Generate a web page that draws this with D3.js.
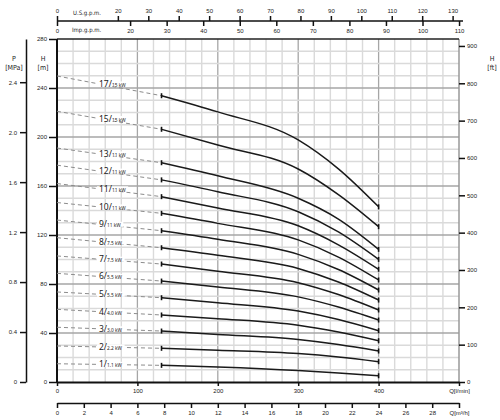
<!DOCTYPE html>
<html>
<head>
<meta charset="utf-8">
<script src="https://cdn.jsdelivr.net/npm/d3@7"></script>
<style>
body { margin:0; background:#fff; }
svg { font-family:"Liberation Sans Narrow","DejaVu Sans Condensed","Liberation Sans",Arial,sans-serif; }
.tick text { font-size:6px; fill:#222; }
.title { font-size:7px; fill:#222; text-anchor:middle; }
</style>
</head>
<body>
<div id="chart-area"></div>
<script>
// pump series: stages / motor power
var stages  = [17, 15, 13, 12, 11, 10, 9, 8, 7, 6, 5, 4, 3, 2, 1];
var motorKw = ["15","15","11","11","11","11","11","7.5","7.5","5.5","5.5","4.0","3.0","2.2","1.1"];

// flow points in l/min (first one is the dashed part start)
var flowPoints = [0, 130, 200, 300, 350, 400];

// head H [m], one row per model (same order as stages)
var heads = [
	[249.8, 233.7, 220.5, 197.6, 174.0, 143.0],
	[221.0, 206.3, 193.5, 173.9, 153.0, 126.8],
	[191.0, 179.0, 168.3, 150.0, 133.0, 108.3],
	[177.0, 165.0, 155.3, 139.0, 122.5, 100.1],
	[162.0, 151.3, 142.0, 127.5, 112.0,  92.0],
	[146.5, 137.7, 129.5, 116.0, 102.0,  83.3],
	[132.2, 123.5, 116.5, 104.2,  91.8,  75.1],
	[117.8, 109.6, 103.4,  92.7,  81.6,  66.9],
	[102.9,  96.3,  90.5,  81.1,  71.4,  58.8],
	[ 88.7,  82.4,  77.6,  69.5,  61.2,  50.6],
	[ 73.5,  68.8,  64.7,  57.9,  51.0,  41.9],
	[ 59.3,  54.7,  51.7,  46.3,  40.8,  33.7],
	[ 44.7,  41.6,  38.8,  34.7,  30.6,  25.3],
	[ 29.4,  27.5,  25.9,  23.2,  20.4,  16.6],
	[ 14.9,  13.6,  12.2,   9.3,   7.3,   5.1]
];

// axis ticks
var hTicks    = [0, 40, 80, 120, 160, 200, 240, 280];
var ftTicks   = [0, 100, 200, 300, 400, 500, 600, 700, 800, 900];
var pTicks    = [0, 0.4, 0.8, 1.2, 1.6, 2.0, 2.4];
var lminTicks = [0, 100, 200, 300, 400, 500];
var m3hTicks  = [0, 2, 4, 6, 8, 10, 12, 14, 16, 18, 20, 22, 24, 26, 28, 30];
var usTicks   = [0, 20, 30, 40, 50, 60, 70, 80, 90, 100, 110, 120, 130];
var impTicks  = [0, 20, 30, 40, 50, 60, 70, 80, 90, 100, 110];

var W = 500, H = 420;
var plot = { left:57, right:459, top:39, bottom:382 };

var svg = d3.select("#chart-area")
	.append("svg")
	.attr("width", W)
	.attr("height", H);

/* scales */
var x = d3.scaleLinear().domain([0, 500]).range([plot.left, plot.right]);
var y = d3.scaleLinear().domain([0, 280]).range([plot.bottom, plot.top]);
var yFt = d3.scaleLinear().domain([0, 280 * 3.2808]).range([plot.bottom, plot.top]);
var yP = d3.scaleLinear().domain([0, 280 / 101.97]).range([plot.bottom, plot.top]);
var xM3 = d3.scaleLinear().domain([0, 30]).range([plot.left, plot.right]);
var xUS = d3.scaleLinear().domain([0, 500 / 3.785]).range([plot.left, plot.right]);
var xImp = d3.scaleLinear().domain([0, 500 / 4.546]).range([plot.left, plot.right]);

/* grid */
var grid = svg.append("g");
grid.selectAll(".vmin").data(d3.range(20, 500, 20))
	.enter().append("line")
	.attr("x1", x).attr("x2", x)
	.attr("y1", plot.top).attr("y2", plot.bottom)
	.attr("stroke", function(d){ return d % 100 === 0 ? "#a6a6a6" : "#dadada"; })
	.attr("stroke-width", function(d){ return d % 100 === 0 ? 1.3 : 1.4; });
grid.selectAll(".hmin").data(d3.range(10, 280, 10))
	.enter().append("line")
	.attr("x1", plot.left).attr("x2", plot.right)
	.attr("y1", y).attr("y2", y)
	.attr("stroke", function(d){ return d % 40 === 0 ? "#a6a6a6" : "#dadada"; })
	.attr("stroke-width", function(d){ return d % 40 === 0 ? 1.3 : 1.4; });

// frame
svg.append("line").attr("x1", plot.right).attr("x2", plot.right).attr("y1", plot.top).attr("y2", plot.bottom)
	.attr("stroke", "#999").attr("stroke-width", 1.5);
svg.append("line").attr("x1", plot.left).attr("x2", plot.right).attr("y1", plot.top).attr("y2", plot.top)
	.attr("stroke", "#222").attr("stroke-width", 1.3);
svg.append("line").attr("x1", plot.left).attr("x2", plot.left).attr("y1", plot.top).attr("y2", plot.bottom)
	.attr("stroke", "#111").attr("stroke-width", 2);

/* curves */
var solid = d3.line()
	.x(function(d){ return x(d[0]); })
	.y(function(d){ return y(d[1]); })
	.curve(d3.curveMonotoneX);

var models = stages.map(function(s, i){
	return {
		stage: s,
		kw: motorKw[i],
		pts: flowPoints.map(function(q, j){ return [q, heads[i][j]]; })
	};
});

var curves = svg.append("g");

// dashed extension from Q = 0
curves.selectAll(".dash").data(models)
	.enter().append("line")
	.attr("x1", function(d){ return x(d.pts[0][0]); })
	.attr("y1", function(d){ return y(d.pts[0][1]); })
	.attr("x2", function(d){ return x(d.pts[1][0]); })
	.attr("y2", function(d){ return y(d.pts[1][1]); })
	.attr("stroke", "#8c8c8c")
	.attr("stroke-width", 1)
	.attr("stroke-dasharray", "4,3");

// labels sitting on the dashed lines
var labX = 99;
curves.selectAll(".lab").data(models)
	.enter().append("g")
	.each(function(d){
		var g = d3.select(this);
		var t = (labX - x(d.pts[0][0])) / (x(d.pts[1][0]) - x(d.pts[0][0]));
		var ly = y(d.pts[0][1] + t * (d.pts[1][1] - d.pts[0][1]));
		var bg = g.append("rect").attr("fill", "#fff");
		var txt = g.append("text")
			.attr("x", labX)
			.attr("y", ly + 3)
			.attr("font-family", "'Noto Sans','Open Sans',sans-serif")
			.attr("fill", "#222");
		txt.append("tspan").attr("font-size", "8.5px").text(d.stage + "/");
		txt.append("tspan").attr("font-size", "4.8px").text(d.kw + " kW");
		var bb = txt.node().getBBox();
		bg.attr("x", bb.x - 2).attr("y", ly - 2.5).attr("width", bb.width + 4).attr("height", 5);
	});

curves.selectAll(".curve").data(models)
	.enter().append("path")
	.attr("d", function(d){ return solid(d.pts.slice(1)); })
	.attr("fill", "none")
	.attr("stroke", "#1a1a1a")
	.attr("stroke-width", 1.5);

// end markers
models.forEach(function(d){
	[d.pts[1], d.pts[d.pts.length - 1]].forEach(function(p){
		curves.append("line")
			.attr("x1", x(p[0])).attr("x2", x(p[0]))
			.attr("y1", y(p[1]) - 2.5).attr("y2", y(p[1]) + 2.5)
			.attr("stroke", "#111").attr("stroke-width", 1.6);
	});
});

/* axes */
function styleAxis(sel, showDomain){
	sel.select(".domain").attr("stroke", showDomain ? "#111" : "none").attr("stroke-width", 1.5);
	sel.selectAll(".tick line").attr("stroke", "#111").attr("stroke-width", 1.5);
}

// H [m] on the left of the plot
var hAxis = svg.append("g")
	.attr("transform", "translate(" + plot.left + ",0)")
	.call(d3.axisLeft(y).tickValues(hTicks).tickSize(8).tickPadding(2));
styleAxis(hAxis, false);

// P [MPa]
var pAxis = svg.append("g")
	.attr("transform", "translate(26,0)")
	.call(d3.axisLeft(yP).tickValues(pTicks).tickSize(6).tickSizeOuter(0).tickPadding(3)
		.tickFormat(function(d){ return d === 0 ? "0" : d3.format(".1f")(d); }));
styleAxis(pAxis, true);

// H [ft] on the right
var ftAxis = svg.append("g")
	.attr("transform", "translate(" + plot.right + ",0)")
	.call(d3.axisRight(yFt).tickValues(ftTicks).tickSize(6).tickPadding(2));
styleAxis(ftAxis, false);

// Q [l/min]
var qAxis = svg.append("g")
	.attr("transform", "translate(0," + plot.bottom + ")")
	.call(d3.axisBottom(x).tickValues(lminTicks).tickSize(4).tickSizeOuter(0).tickPadding(3)
		.tickFormat(function(d){ return d === 500 ? "Q[l/min]" : d; }));
styleAxis(qAxis, true);
qAxis.select(".domain").attr("stroke-width", 2);

// Q [m3/h]
var mAxis = svg.append("g")
	.attr("transform", "translate(0,403)")
	.call(d3.axisBottom(xM3).tickValues(m3hTicks).tickSize(5).tickSizeOuter(0).tickPadding(3)
		.tickFormat(function(d){ return d === 30 ? "Q[m³/h]" : d; }));
styleAxis(mAxis, true);

// top flow scales
var usAxis = svg.append("g")
	.attr("transform", "translate(0,21)")
	.call(d3.axisTop(xUS).tickValues(usTicks).tickSize(5).tickSizeOuter(0).tickPadding(3));
styleAxis(usAxis, true);
usAxis.select(".domain").attr("d", "M" + plot.left + ",0H463");

var impAxis = svg.append("g")
	.attr("transform", "translate(0,21)")
	.call(d3.axisBottom(xImp).tickValues(impTicks).tickSize(5).tickSizeOuter(0).tickPadding(3));
styleAxis(impAxis, false);

svg.append("text").attr("x", 73).attr("y", 15).attr("font-size", "6px").attr("fill", "#222").text("U.S.g.p.m.");
svg.append("text").attr("x", 72).attr("y", 32).attr("font-size", "6px").attr("fill", "#222").text("Imp.g.p.m.");

// axis titles
svg.append("text").attr("class", "title").attr("x", 14).attr("y", 61).text("P");
svg.append("text").attr("class", "title").attr("x", 14).attr("y", 70).attr("font-size", "5.5px").text("[MPa]");
svg.append("text").attr("class", "title").attr("x", 43).attr("y", 61).text("H");
svg.append("text").attr("class", "title").attr("x", 43).attr("y", 70).attr("font-size", "5.5px").text("[m]");
svg.append("text").attr("class", "title").attr("x", 492).attr("y", 61).text("H");
svg.append("text").attr("class", "title").attr("x", 492).attr("y", 70).attr("font-size", "5.5px").text("[ft]");
</script>
</body>
</html>
